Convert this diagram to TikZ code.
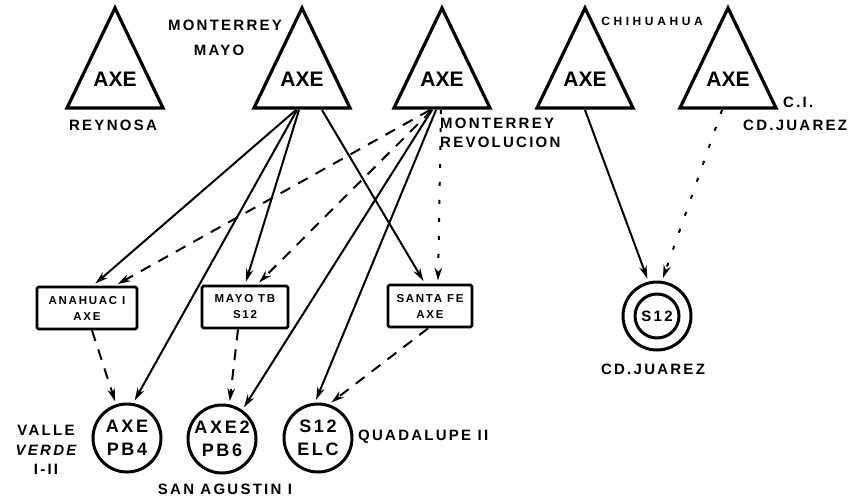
\documentclass[tikz,border=0pt]{standalone}
\usepackage{fontspec}
\setmainfont{Liberation Sans}
\newfontfamily\widefont{Liberation Sans}[LetterSpace=15]
\usetikzlibrary{arrows.meta}

\tikzset{
  tri/.style={line width=3.2pt},
  axe/.style={font=\bfseries\fontsize{21}{21}\selectfont, inner sep=0pt},
  tbox/.style={draw, line width=2.8pt, rounded corners=1.5pt, minimum height=42pt,
    align=center, inner sep=2pt, font=\widefont\bfseries\fontsize{11.5}{16}\selectfont},
  exch/.style={circle, draw, line width=3pt, minimum size=68pt, inner sep=0pt,
    align=center, font=\widefont\bfseries\fontsize{18}{23}\selectfont},
  lbl/.style={font=\widefont\bfseries\fontsize{15}{19}\selectfont, inner sep=0pt},
  trunk/.style={line width=2pt, -{Stealth[length=13pt,width=7.5pt]}, shorten >=3pt},
  dashtrunk/.style={trunk, dash pattern=on 11pt off 9pt},
  dottrunk/.style={trunk, dash pattern=on 4pt off 14pt},
}

\begin{document}
\begin{tikzpicture}[x=1pt,y=-1pt]
\useasboundingbox (0,0) rectangle (854,498);

% AXE exchanges on top
\foreach \n/\x in {reynosa/115, mayo/302, revol/442, chih/585, cij/728}{
  \draw[tri] (\x,8) -- (\x+48,108) -- (\x-48,108) -- cycle;
  \node[axe] (\n) at (\x,79) {AXE};
  \coordinate (\n-b) at (\x,110);
}

\node[lbl] (reynosa-l) at (113,125) {REYNOSA};
\node[lbl] (mayo-l1) at (225,25) {MONTERREY};
\node[lbl] (mayo-l2) at (219,50) {MAYO};
\node[lbl, anchor=west] (revol-l1) at (440,123) {MONTERREY};
\node[lbl, anchor=west] (revol-l2) at (440,142) {REVOLUCION};
\node[lbl, font=\widefont\bfseries\fontsize{12}{13}\selectfont\addfontfeature{LetterSpace=30}] (chih-l) at (652,21) {CHIHUAHUA};
\node[lbl, anchor=west] (cij-l1) at (783,102) {C.I.};
\node[lbl, anchor=west] (cij-l2) at (743,125) {CD.JUAREZ};

% tandem boxes
\node[tbox, minimum width=100pt] (anahuac) at (87,308) {ANAHUAC I\\AXE};
\node[tbox, minimum width=86pt] (mayotb) at (245,307) {MAYO TB\\S12};
\node[tbox, minimum width=84pt] (santafe) at (430,306) {SANTA FE\\AXE};

% local exchanges
\node[exch] (pb4) at (127,438) {AXE\\PB4};
\node[exch] (pb6) at (222,439) {AXE2\\PB6};
\node[exch] (elc) at (318,438) {S12\\ELC};
\node[exch] (cdj) at (657,316) {};
\node[exch, minimum size=44pt, font=\widefont\bfseries\fontsize{15}{15}\selectfont] (cdj-in) at (cdj) {S12};

\node[lbl, align=center, font=\widefont\bfseries\fontsize{15}{19.5}\selectfont] (valle-l) at (46,450) {VALLE\\{\itshape VERDE}\\I-II};
\node[lbl] (agustin-l) at (225,489) {SAN AGUSTIN I};
\node[lbl, anchor=west] (elc-l) at (358,437) {QUADALUPE II};
\node[lbl] (cdj-l) at (653,369) {CD.JUAREZ};

% from Monterrey Mayo
\draw[trunk] ([xshift=-6]mayo-b) -- ([xshift=6]anahuac.north);
\draw[trunk] ([xshift=-5]mayo-b) -- (pb4.80);
\draw[trunk] ([xshift=-3]mayo-b) -- (mayotb.north);
\draw[trunk] ([xshift=20]mayo-b) -- ([xshift=-5]santafe.north);

% from Monterrey Revolucion
\draw[dashtrunk] ([xshift=-12]revol-b) -- ([xshift=28]anahuac.north);
\draw[dashtrunk] ([xshift=-10]revol-b) -- ([xshift=12]mayotb.north);
\draw[trunk] ([xshift=-10]revol-b) -- (pb6.55);
\draw[trunk] ([xshift=-6]revol-b) -- (elc.95);
\draw[dottrunk] ([xshift=-1]revol-b) -- ([xshift=8]santafe.north);

% tandems down to the local exchanges
\draw[dashtrunk] ([xshift=5]anahuac.south) -- (pb4.108);
\draw[dashtrunk] ([xshift=-7]mayotb.south) -- (pb6.78);
\draw[dashtrunk] ([xshift=-2]santafe.south) -- (elc.72);

% Chihuahua and C.I. to Cd. Juarez
\draw[trunk] (chih-b) -- (cdj.104);
\draw[dottrunk] ([xshift=-6]cij-b) -- (cdj.82);
\end{tikzpicture}
\end{document}
